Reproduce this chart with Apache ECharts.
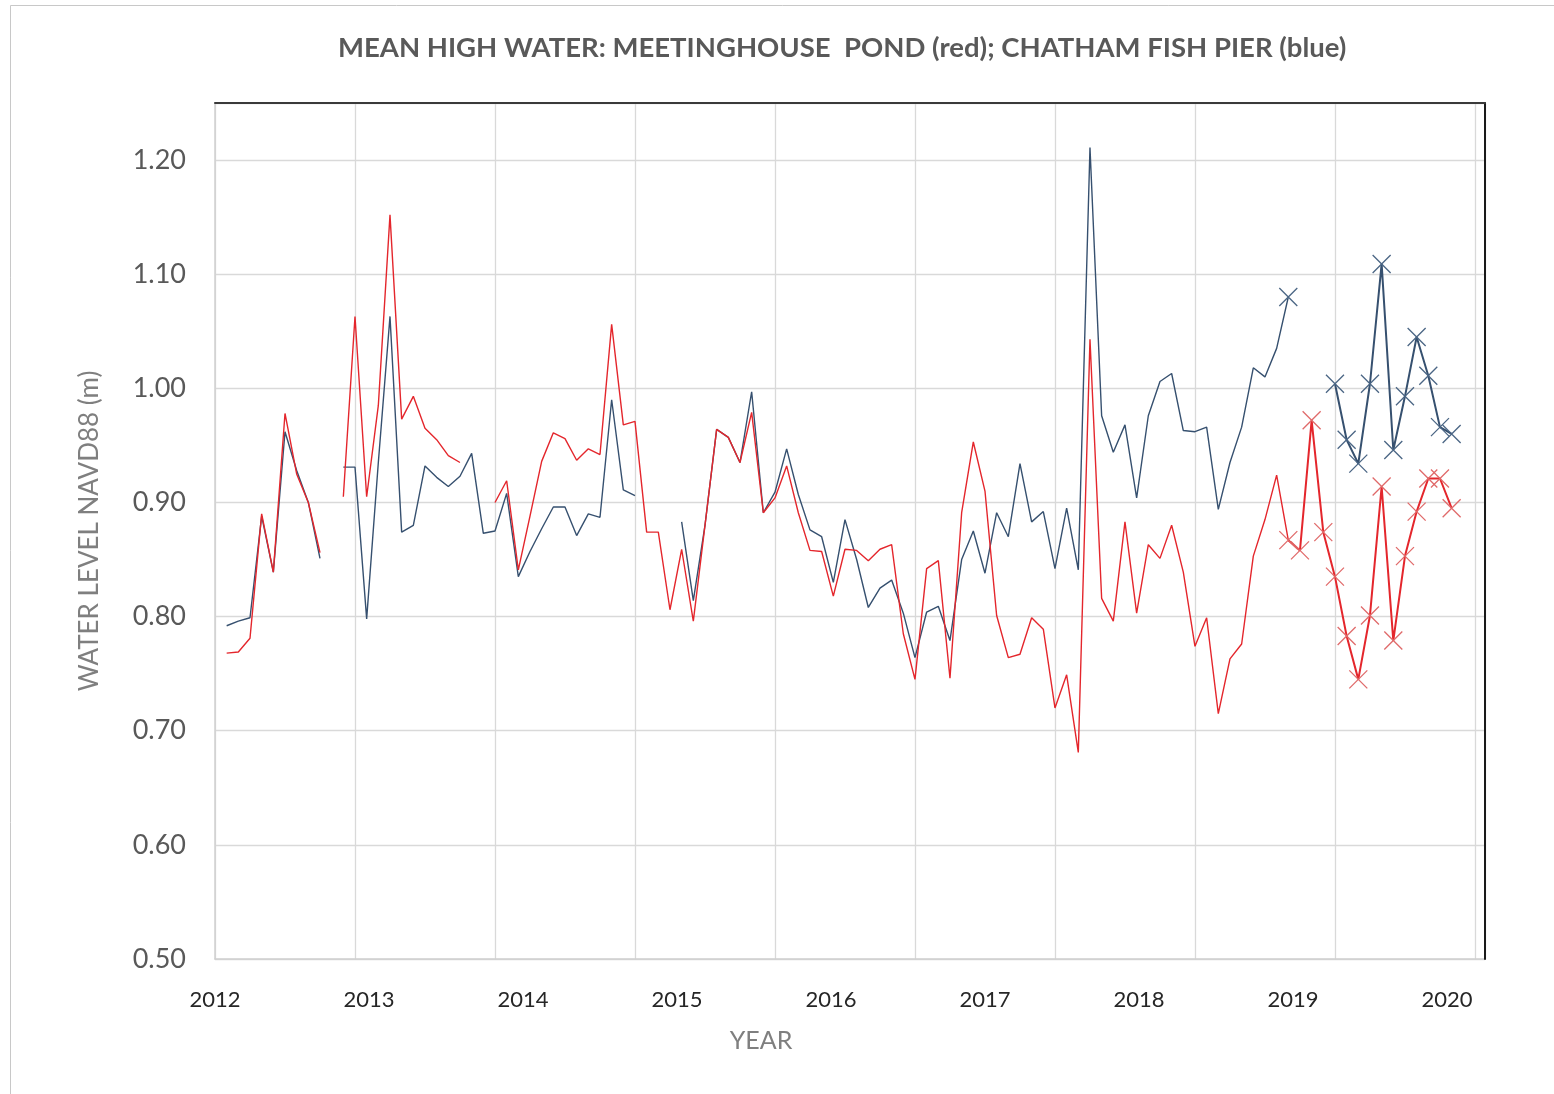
<!DOCTYPE html>
<html>
<head>
<meta charset="utf-8">
<script src="https://cdn.jsdelivr.net/npm/echarts@6/dist/echarts.min.js"></script>
<style>
  html, body { margin: 0; padding: 0; background: #fff; }
  #chart { width: 1554px; height: 1094px; }
</style>
</head>
<body>
<div id="chart"></div>
<script>
// monthly mean high water (m, NAVD88), month 1 = first month on the chart
var pondHigh = [
    0.768, 0.769, 0.781, 0.890, 0.839, 0.978, 0.925, 0.900, 0.856, null,
    0.905, 1.063, 0.905, 0.985, 1.152, 0.973, 0.993, 0.965, 0.955, 0.941,
    0.935, null, null, 0.900, 0.919, 0.841, 0.888, 0.936, 0.961, 0.956,
    0.937, 0.947, 0.942, 1.056, 0.968, 0.971, 0.874, 0.874, 0.806, 0.859,
    0.796, 0.880, 0.964, 0.957, 0.935, 0.979, 0.891, 0.904, 0.932, 0.891,
    0.858, 0.857, 0.818, 0.859, 0.858, 0.849, 0.859, 0.863, 0.785, 0.745,
    0.842, 0.849, 0.746, 0.891, 0.953, 0.910, 0.801, 0.764, 0.767, 0.799,
    0.789, 0.720, 0.749, 0.681, 1.043, 0.816, 0.796, 0.883, 0.803, 0.863,
    0.851, 0.880, 0.839, 0.774, 0.799, 0.715, 0.763, 0.776, 0.853, 0.885,
    0.924, 0.867, 0.858, 0.972, 0.874, 0.835, 0.783, 0.745, 0.801, 0.914,
    0.779, 0.853, 0.892, 0.921, 0.921, 0.895
];
var pierHigh = [
    0.792, 0.796, 0.799, 0.888, 0.839, 0.962, 0.928, 0.900, 0.851, null,
    0.931, 0.931, 0.798, 0.935, 1.063, 0.874, 0.880, 0.932, 0.922, 0.914,
    0.923, 0.943, 0.873, 0.875, 0.908, 0.835, 0.857, 0.877, 0.896, 0.896,
    0.871, 0.890, 0.887, 0.990, 0.911, 0.906, null, null, null, 0.883,
    0.814, 0.880, 0.964, 0.957, 0.935, 0.997, 0.891, 0.909, 0.947, 0.907,
    0.876, 0.870, 0.830, 0.885, 0.850, 0.808, 0.825, 0.832, 0.803, 0.764,
    0.804, 0.809, 0.779, 0.850, 0.875, 0.838, 0.891, 0.870, 0.934, 0.883,
    0.892, 0.842, 0.895, 0.841, 1.211, 0.976, 0.944, 0.968, 0.904, 0.976,
    1.006, 1.013, 0.963, 0.962, 0.966, 0.894, 0.935, 0.966, 1.018, 1.010,
    1.035, 1.080, null, null, null, 1.004, 0.955, 0.934, 1.004, 1.109,
    0.946, 0.993, 1.045, 1.011, 0.966, 0.960
];
var yearLabels = ['2012', '2013', '2014', '2015', '2016', '2017', '2018', '2019', '2020'];
var markedFrom = 92;   // months from here on are drawn with x markers

var RED = '#e4262c', BLUE = '#36506f';
var crossPath = 'path://M0,0L10,10M10,0L0,10';

// [month, value] pairs, split at markedFrom
function toPairs(vals, from, to) {
    var res = [];
    for (var i = 0; i < vals.length; i++) {
        var m = i + 1;
        if (m >= from && m <= to) res.push([m, vals[i]]);
    }
    return res;
}

function plainSeries(vals, color) {
    return {
        type: 'line',
        data: toPairs(vals, 1, markedFrom),
        showSymbol: false,
        connectNulls: false,
        lineStyle: { color: color, width: 1.4 },
        itemStyle: { color: color },
        animation: false,
        z: color === RED ? 3 : 2
    };
}
function markedSeries(vals, color, markColor) {
    return {
        type: 'line',
        data: toPairs(vals, markedFrom, vals.length),
        symbol: crossPath,
        symbolSize: 18,
        showSymbol: true,
        showAllSymbol: true,
        connectNulls: false,
        lineStyle: { color: color, width: 2 },
        itemStyle: { color: 'rgba(0,0,0,0)', borderColor: markColor, borderWidth: 1.3 },
        animation: false,
        z: 4
    };
}

var font = 'Lato, "Open Sans", sans-serif';
var xMax = 108.86;     // months spanned by the plot area
var yearMax = 8.247;   // year label scale

option = {
    backgroundColor: '#fff',
    title: {
        text: 'MEAN HIGH WATER: MEETINGHOUSE  POND (red); CHATHAM FISH PIER (blue)',
        left: 333,
        top: 29,
        textStyle: { fontFamily: font, fontSize: 27.5, fontWeight: 'bold', color: '#595959' }
    },
    graphic: [
        { type: 'rect', shape: { x: 10.5, y: 5.5, width: 1700, height: 1200 },
          style: { fill: 'none', stroke: '#c8c8c8', lineWidth: 1 }, z: -10 },
        { type: 'text', x: 761, y: 1041,
          style: { text: 'YEAR', fill: '#7f7f7f', font: '25px ' + font, textAlign: 'center', textVerticalAlign: 'middle' } }
    ],
    grid: { left: 215, right: 69, top: 103, bottom: 135 },
    xAxis: [
        {
            type: 'value', min: 0, max: xMax, interval: 12, position: 'bottom',
            axisLine: { show: true, onZero: false, lineStyle: { color: '#d0d0d0', width: 1.5 } },
            axisTick: { show: false },
            axisLabel: { show: false },
            splitLine: { show: true, lineStyle: { color: '#d9d9d9', width: 1.3 } }
        },
        {
            type: 'value', min: 0, max: yearMax, interval: 1, position: 'bottom',
            axisLine: { show: false, onZero: false }, axisTick: { show: false }, splitLine: { show: false },
            axisLabel: {
                margin: 30, color: '#262626', fontFamily: font, fontSize: 22,
                formatter: function (v) { return Number.isInteger(v) ? yearLabels[v] : ''; }
            }
        },
        {
            type: 'value', min: 0, max: xMax, position: 'top', z: 10,
            axisLine: { show: true, onZero: false, lineStyle: { color: '#3a3a3a', width: 2 } },
            axisTick: { show: false }, axisLabel: { show: false }, splitLine: { show: false }
        }
    ],
    yAxis: [
        {
            type: 'value', min: 0.5, max: 1.25, interval: 0.1, position: 'left',
            name: 'WATER LEVEL NAVD88 (m)', nameLocation: 'middle', nameGap: 112,
            nameTextStyle: { color: '#7f7f7f', fontFamily: font, fontSize: 26 },
            axisLine: { show: true, onZero: false, lineStyle: { color: '#d0d0d0', width: 1.5 } },
            axisTick: { show: false },
            axisLabel: {
                margin: 29, color: '#595959', fontFamily: font, fontSize: 27,
                formatter: function (v) {
                    var r = Math.round(v * 100);
                    return r % 10 === 0 ? (r / 100).toFixed(2) : '';
                }
            },
            splitLine: { show: true, lineStyle: { color: '#d9d9d9', width: 1.3 } }
        },
        {
            type: 'value', min: 0.5, max: 1.25, position: 'right', z: 10,
            axisLine: { show: true, onZero: false, lineStyle: { color: '#1a1a1a', width: 2 } },
            axisTick: { show: false }, axisLabel: { show: false }, splitLine: { show: false }
        }
    ],
    series: [
        plainSeries(pierHigh, BLUE),
        plainSeries(pondHigh, RED),
        markedSeries(pierHigh, BLUE, '#4a6584'),
        markedSeries(pondHigh, RED, '#e06a6a')
    ]
};

var myChart = echarts.init(document.getElementById('chart'));
myChart.setOption(option);
</script>
</body>
</html>
